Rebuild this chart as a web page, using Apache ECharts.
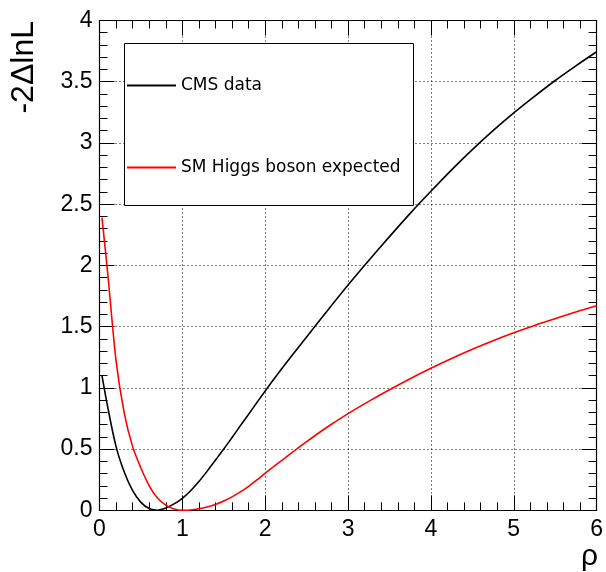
<!DOCTYPE html>
<html>
<head>
<meta charset="utf-8">
<script src="https://cdn.jsdelivr.net/npm/echarts@6/dist/echarts.min.js"></script>
<style>
html,body{margin:0;padding:0;background:#fff;}
#chart{width:606px;height:572px;}
</style>
</head>
<body>
<div id="chart"></div>
<script>
// rho values (x) and -2ΔlnL values
const rho = [0.03, 0.1, 0.2, 0.3, 0.4, 0.5, 0.6, 0.7, 0.8, 0.9, 1.0, 1.1, 1.2, 1.3, 1.4, 1.5, 1.6, 1.7, 1.8, 1.9, 2.0, 2.25, 2.5, 2.75, 3.0, 3.25, 3.5, 3.75, 4.0, 4.25, 4.5, 4.75, 5.0, 5.25, 5.5, 5.75, 6.0];
const cmsData = [1.10, 0.84, 0.52, 0.31, 0.16, 0.065, 0.014, 0.001, 0.018, 0.052, 0.098, 0.16, 0.235, 0.32, 0.41, 0.50, 0.595, 0.69, 0.785, 0.88, 0.975, 1.20, 1.415, 1.63, 1.84, 2.04, 2.235, 2.425, 2.605, 2.78, 2.945, 3.10, 3.245, 3.38, 3.51, 3.63, 3.745];
const smExpected = [2.39, 1.93, 1.22, 0.79, 0.52, 0.345, 0.20, 0.10, 0.042, 0.01, 0.0, 0.003, 0.012, 0.027, 0.048, 0.076, 0.11, 0.15, 0.196, 0.248, 0.303, 0.433, 0.56, 0.68, 0.79, 0.89, 0.985, 1.075, 1.16, 1.24, 1.315, 1.385, 1.45, 1.51, 1.565, 1.62, 1.67];
const seriesNames = ['CMS data', 'SM Higgs boson expected'];
const xTitle = 'ρ';
const yTitle = '-2ΔlnL';

const pair = (xs, ys) => xs.map((x, i) => [x, ys[i]]);

const chart = echarts.init(document.getElementById('chart'), null, {renderer: 'canvas'});
const labelFont = {fontFamily: 'Liberation Sans, Arial, sans-serif', fontSize: 23, color: '#000'};
const axisCommon = {
  axisLine: {show: true, onZero: false, lineStyle: {color: '#000', width: 1.2}},
  axisTick: {show: true, inside: true, length: 15, lineStyle: {color: '#000', width: 1}},
  minorTick: {show: true, splitNumber: 5, length: 8, lineStyle: {color: '#000', width: 1}}
};
const option = {
  animation: false,
  backgroundColor: '#fff',
  grid: {left: 99.5, right: 7.5, top: 20.5, bottom: 61.7, containLabel: false},
  xAxis: [
    Object.assign({
      type: 'value', min: 0, max: 6, interval: 1, position: 'bottom',
      axisLabel: Object.assign({margin: 8}, labelFont),
      splitLine: {show: true, lineStyle: {color: '#000', type: [1, 3], width: 1}}
    }, axisCommon),
    Object.assign({
      type: 'value', min: 0, max: 6, interval: 1, position: 'top',
      axisLabel: {show: false}, splitLine: {show: false}
    }, axisCommon)
  ],
  yAxis: [
    Object.assign({
      type: 'value', min: 0, max: 4, interval: 0.5, position: 'left',
      axisLabel: Object.assign({margin: 7}, labelFont),
      splitLine: {show: true, lineStyle: {color: '#000', type: [1, 3], width: 1}}
    }, axisCommon),
    Object.assign({
      type: 'value', min: 0, max: 4, interval: 0.5, position: 'right',
      axisLabel: {show: false}, splitLine: {show: false}
    }, axisCommon)
  ],
  legend: {
    orient: 'vertical', left: 127, top: 77,
    icon: 'rect', itemWidth: 49, itemHeight: 2, itemGap: 65,
    padding: 0,
    textStyle: {fontFamily: 'DejaVu Sans, sans-serif', fontSize: 17, color: '#000'},
    data: seriesNames,
    z: 10
  },
  graphic: [
    {type: 'rect', z: 5, shape: {x: 124.5, y: 43.5, width: 289, height: 162},
     style: {fill: '#fff', stroke: '#000', lineWidth: 1}},
    {type: 'text', z: 5, x: 24, y: 21, rotation: Math.PI / 2,
     style: {text: yTitle, font: '32px "Liberation Sans", Arial, sans-serif', fill: '#000',
             textAlign: 'right', textVerticalAlign: 'middle'}},
    {type: 'text', z: 5, x: 598, y: 557,
     style: {text: xTitle, font: '30px "Liberation Sans", Arial, sans-serif', fill: '#000',
             textAlign: 'right', textVerticalAlign: 'middle'}}
  ],
  series: [
    {name: seriesNames[0], type: 'line', data: pair(rho, cmsData), smooth: 0.3,
     showSymbol: false, symbol: 'none', color: '#000', lineStyle: {color: '#000', width: 1.6}, z: 3},
    {name: seriesNames[1], type: 'line', data: pair(rho, smExpected), smooth: 0.3,
     showSymbol: false, symbol: 'none', color: '#ff0000', lineStyle: {color: '#ff0000', width: 1.6}, z: 3}
  ]
};
chart.setOption(option);
</script>
</body>
</html>
